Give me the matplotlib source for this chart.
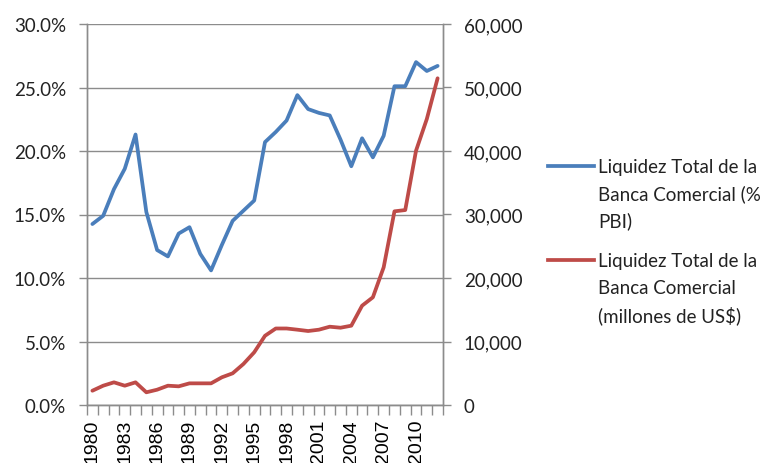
import matplotlib.pyplot as plt
from matplotlib.lines import Line2D
from matplotlib.ticker import FuncFormatter

years = list(range(1980, 2013))

# Liquidez total de la banca comercial, % del PBI
liquidez_pbi = [14.25, 14.9, 17.0, 18.6, 21.3, 15.2, 12.2, 11.7, 13.5, 14.0,
                11.9, 10.6, 12.6, 14.5, 15.3, 16.1, 20.7, 21.5, 22.4, 24.4,
                23.3, 23.0, 22.8, 20.9, 18.8, 21.0, 19.5, 21.2, 25.1, 25.1,
                27.0, 26.3, 26.7]

# Liquidez total de la banca comercial, millones de US$
liquidez_usd = [2250, 3040, 3570, 3040, 3570, 2000, 2410, 3040, 2940, 3410,
                3410, 3410, 4360, 4990, 6460, 8300, 10900, 12050, 12050, 11860,
                11650, 11860, 12330, 12170, 12490, 15640, 16960, 21680, 30500, 30700,
                40050, 45040, 51450]

label_pbi = ["Liquidez Total de la", "Banca Comercial (%", "PBI)"]
label_usd = ["Liquidez Total de la", "Banca Comercial", "(millones de US$)"]

blue = "#4A7EBB"
red = "#BE4B48"
grid_col = "#8C8C8C"
label_font = "Lato"

fig = plt.figure(figsize=(7.82, 4.64), dpi=100)
ax = fig.add_axes([87 / 782, 58 / 464, 356 / 782, 381 / 464])
ax2 = ax.twinx()

x = list(range(len(years)))
ax.plot(x, liquidez_pbi, color=blue, lw=2.7, solid_capstyle="round", zorder=3)
ax2.plot(x, liquidez_usd, color=red, lw=2.7, solid_capstyle="round", zorder=3)

ax.set_xlim(-0.5, len(years) - 0.5)
ax.set_ylim(0, 30)
ax2.set_ylim(0, 60000)
ax.set_yticks(range(0, 31, 5))
ax2.set_yticks(range(0, 60001, 10000))
ax.yaxis.set_major_formatter(FuncFormatter(lambda v, p: f"{v:.1f}%"))
ax2.yaxis.set_major_formatter(FuncFormatter(lambda v, p: f"{int(v):,}"))
ax.grid(axis="y", color=grid_col, lw=1)
ax.set_axisbelow(True)

# tick marks between categories, year labels every three years at centers
ax.set_xticks([i - 0.5 for i in range(len(years) + 1)])
ax.set_xticklabels([])
ax.set_xticks([i for i in x if years[i] % 3 == 1980 % 3], minor=True)
ax.set_xticklabels([str(years[i]) for i in x if years[i] % 3 == 1980 % 3],
                   minor=True, rotation=90, fontsize=14, family="Liberation Sans")
ax.tick_params(axis="x", which="major", length=7, width=1, color=grid_col)
ax.tick_params(axis="x", which="minor", length=0, pad=10)
ax.tick_params(axis="y", length=6, width=1, color=grid_col, pad=9, labelsize=13.5)
ax2.tick_params(axis="y", length=6, width=1, color=grid_col, pad=9, labelsize=13.5)
for lab in ax.get_yticklabels() + ax2.get_yticklabels():
    lab.set_family(label_font)
    lab.set_color("#222222")

for a in (ax, ax2):
    a.spines["top"].set_visible(False)
    for s in ("left", "right", "bottom"):
        a.spines[s].set_color(grid_col)
        a.spines[s].set_linewidth(1)

# legend drawn to the right of the plot, handle aligned with the first line
for lines, col, y0 in ((label_pbi, blue, 167), (label_usd, red, 261)):
    fig.add_artist(Line2D([548 / 782, 594 / 782], [1 - y0 / 464, 1 - y0 / 464],
                          color=col, lw=2.7, transform=fig.transFigure))
    for k, t in enumerate(lines):
        fig.text(598 / 782, 1 - (y0 + k * 27.3) / 464, t, family=label_font,
                 fontsize=13.5, va="center", ha="left", color="#222222")

fig.savefig("out.png", dpi=100)
